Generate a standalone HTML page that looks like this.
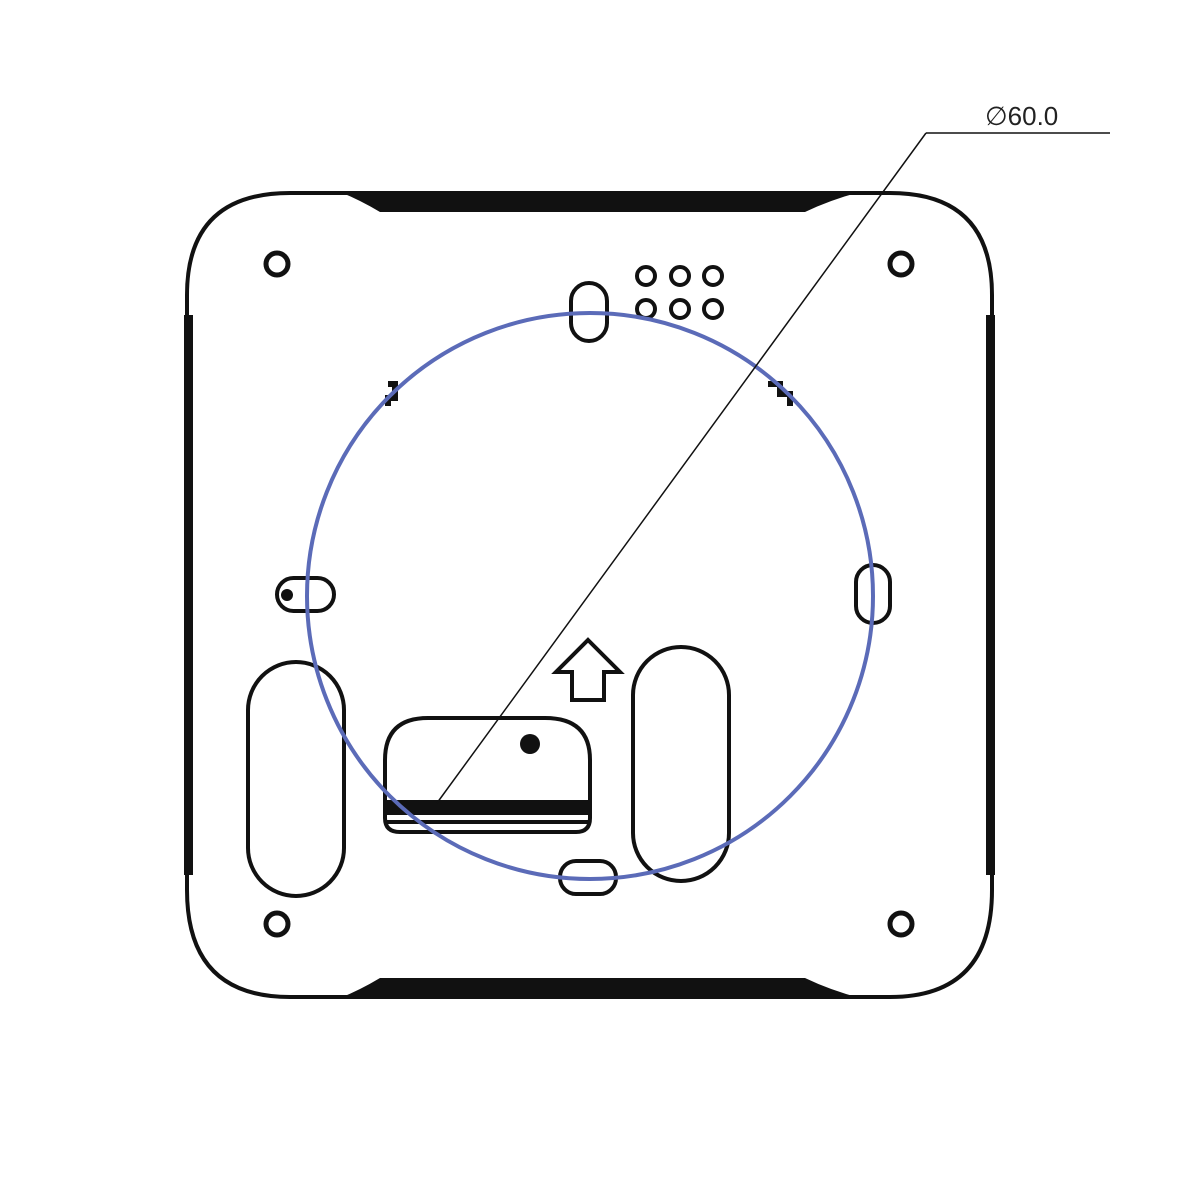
<!DOCTYPE html>
<html><head><style>html,body{margin:0;padding:0;background:#fff}svg{display:block}</style></head>
<body>
<svg width="1200" height="1200" viewBox="0 0 1200 1200" xmlns="http://www.w3.org/2000/svg">
<rect width="1200" height="1200" fill="#fff"/>
<g fill="none" stroke="#111" stroke-width="4">
<path d="M290,193 L890,193 Q992,193 992,295 L992,890 Q992,997 890,997 L290,997 Q187,997 187,890 L187,295 Q187,193 290,193 Z"/>
</g>
<g fill="#111">
<path d="M340,192 L860,192 Q830,200 805,212 L380,212 Q360,200 340,192 Z"/>
<path d="M340,998 L860,998 Q830,990 805,978 L380,978 Q360,990 340,998 Z"/>
<rect x="184" y="315" width="9" height="560"/>
<rect x="986" y="315" width="9" height="560"/>
</g>
<g fill="none" stroke="#111" stroke-width="5">
<circle cx="277" cy="264" r="11"/><circle cx="901" cy="264" r="11"/>
<circle cx="277" cy="924" r="11"/><circle cx="901" cy="924" r="11"/>
</g>
<g fill="none" stroke="#111" stroke-width="4">
<circle cx="646" cy="276" r="9"/><circle cx="680" cy="276" r="9"/><circle cx="713" cy="276" r="9"/>
<circle cx="646" cy="309" r="9"/><circle cx="680" cy="309" r="9"/><circle cx="713" cy="309" r="9"/>
<rect x="571" y="283" width="36" height="58" rx="18"/>
<rect x="277" y="578" width="57" height="33" rx="16.5"/>
<rect x="856" y="565" width="34" height="58" rx="17"/>
<rect x="248" y="662" width="96" height="234" rx="48"/>
<rect x="633" y="647" width="96" height="234" rx="48"/>
<path d="M385,818 L385,760 Q385,718 428,718 L545,718 Q590,718 590,760 L590,818 Q590,832 576,832 L400,832 Q385,832 385,818 Z"/>
<rect x="560" y="861" width="56" height="33" rx="16"/>
<path d="M588,640 L620,672 L604,672 L604,700 L572,700 L572,672 L556,672 Z"/>
</g>
<rect x="386" y="800" width="204" height="15" fill="#111"/>
<line x1="386" y1="822" x2="590" y2="822" stroke="#111" stroke-width="4"/>
<circle cx="530" cy="744" r="10" fill="#111"/>
<circle cx="287" cy="595" r="6" fill="#111"/>
<g fill="none" stroke="#111" stroke-width="6">
<path d="M388,384 L398,384 M395,384 L395,398 L388,398 L388,406"/>
<path d="M768,384 L780,384 L780,394 L790,394 L790,406"/>
</g>
<circle cx="590" cy="596" r="283" fill="none" stroke="#5b6bb8" stroke-width="4"/>
<g stroke="#111" stroke-width="1.5" fill="none">
<line x1="437" y1="803" x2="926" y2="133"/>
<line x1="926" y1="133" x2="1110" y2="133"/>
</g>
<text x="985" y="125" font-family="Liberation Sans, sans-serif" font-size="26" fill="#222">∅60.0</text>
</svg>
</body></html>
